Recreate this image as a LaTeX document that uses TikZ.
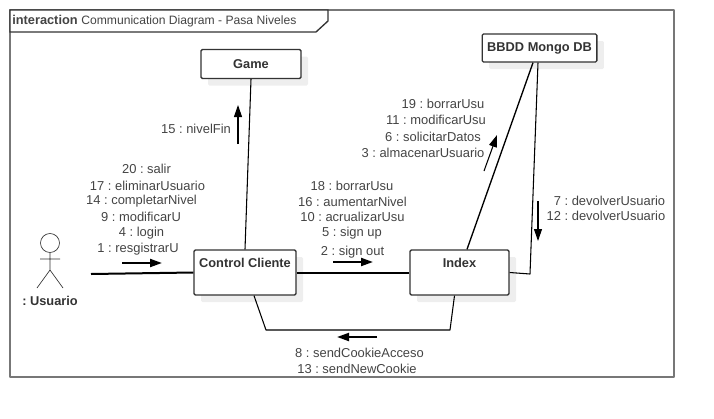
\documentclass[tikz,border=0pt]{standalone}
\usepackage{fontspec}
\setmainfont{Liberation Sans}
\frenchspacing
\usetikzlibrary{arrows.meta, calc, shadows}
\definecolor{mydark}{RGB}{51,51,51}
\definecolor{mytext}{RGB}{68,68,68}
\definecolor{myframe}{RGB}{119,119,119}
\definecolor{myshadow}{RGB}{238,238,238}
\tikzset{
  objlabel/.style={inner sep=0pt, align=center, font=\bfseries\fontsize{9.6}{11}\selectfont, text=mydark},
  objbox/.style={objlabel, rectangle, draw=mydark, fill=white, rounded corners=1pt,
    line width=1pt, copy shadow={draw=none, fill=myshadow, shadow xshift=5.25pt, shadow yshift=-5.25pt}},
  msg/.style={inner sep=0pt, font=\fontsize{9.7}{11}\selectfont, text=mytext},
  link/.style={line width=0.8pt, color=black},
  boldlink/.style={line width=1.5pt, color=black},
  msgarrow/.style={-{Triangle[length=9pt,width=6pt]}, line width=1.5pt, color=black}
}
\begin{document}
\begin{tikzpicture}[x=0.75pt, y=-0.75pt]
  \useasboundingbox (0,0) rectangle (714,418);
  % Frame and its tab
  \draw[line width=1.5pt, color=myframe, line join=round] (10,10) rectangle (674,377);
  \draw[line width=1pt, color=mydark, fill=white] (10,10) -- (328,10) -- (328,21) -- (316,32) -- (10,32) -- cycle;
  \node[msg, anchor=west] (title) at (12,21) {{\fontsize{9.6}{11}\selectfont\bfseries interaction} {\fontsize{9.1}{11}\selectfont Communication Diagram - Pasa Niveles}};

  % Objects
  \node[objbox, minimum width=75pt, minimum height=21.75pt] (game) at (251,64) {Game};
  \node[objbox, minimum width=86pt, minimum height=21pt] (mongo) at (539.5,48) {BBDD Mongo DB};
  \node[objbox, minimum width=76.5pt, minimum height=33.75pt, text depth=14pt] (ctrl) at (245,272.5) {Control Cliente};
  \node[objbox, minimum width=74.25pt, minimum height=33.75pt, text depth=14pt] (index) at (459.5,272.5) {Index};

  % Actor
  \draw[line width=0.5pt, color=mydark] (50,243) circle (9.5);
  \draw[line width=0.5pt, color=mydark] (50,252.5) -- (50,270) -- (37,288) (50,270) -- (63,288) (40,259) -- (60,259);
  \node[objlabel] (usuario) at (50,301) {: Usuario};
  \coordinate (usrend) at (91,274);

  % Links
  \draw[boldlink] (usrend) -- (ctrl.west);
  \draw[link] (ctrl.north) -- (game.south);
  \draw[boldlink] (ctrl.east) -- (index.west);
  \coordinate (lowleft) at (266,330);
  \coordinate (lowright) at (450,330);
  \draw[link, line join=round] ($(ctrl.south)+(9,0)$) -- (lowleft) -- (lowright) -- ($(index.south)+(-5,0)$);
  \draw[line width=1pt] ($(index.north)+(7.5,0)$) -- ($(mongo.south)+(-6.5,0)$);
  \coordinate (indexbend) at (530,274);
  \draw[link, line join=round] (index.east) -- (indexbend) -- ($(mongo.south)+(-1.5,0)$);

  % Message arrows
  \coordinate (a1s) at (238,144);  \coordinate (a1e) at (238,105);
  \coordinate (a2s) at (122,263);  \coordinate (a2e) at (162,263);
  \coordinate (a3s) at (333,262);  \coordinate (a3e) at (373,262);
  \coordinate (a4s) at (377,337);  \coordinate (a4e) at (337,337);
  \coordinate (a5s) at (484,171);  \coordinate (a5e) at (497,135);
  \coordinate (a6s) at (538,201);  \coordinate (a6e) at (538,241);
  \draw[msgarrow, line width=0.8pt] (a1s) -- (a1e);
  \draw[msgarrow] (a2s) -- (a2e);
  \draw[msgarrow] (a3s) -- (a3e);
  \draw[msgarrow] (a4s) -- (a4e);
  \draw[msgarrow, line width=0.8pt] (a5s) -- (a5e);
  \draw[msgarrow, line width=0.8pt] (a6s) -- (a6e);

  % Labels
  \node[msg] (m15) at (196,129) {15 : nivelFin};

  \node[msg] (m20) at (146.5,169) {20 : salir};
  \node[msg] (m17) at (147.5,185.5) {17 : eliminarUsuario};
  \node[msg] (m14) at (141.5,201.5) {14 : completarNivel};
  \node[msg] (m9) at (141,217) {9 : modificarU};
  \node[msg] (m4) at (141.5,233) {4 : login};
  \node[msg] (m1) at (138,249) {1 : resgistrarU};

  \node[msg] (m18) at (352,185.5) {18 : borrarUsu};
  \node[msg] (m16) at (352.5,201.5) {16 : aumentarNivel};
  \node[msg] (m10) at (352.5,217) {10 : acrualizarUsu};
  \node[msg] (m5) at (352,233) {5 : sign up};
  \node[msg] (m2) at (352.5,252.5) {2 : sign out};

  \node[msg] (m19) at (443,104) {19 : borrarUsu};
  \node[msg] (m11) at (436,120) {11 : modificarUsu};
  \node[msg] (m6) at (433,136.5) {6 : solicitarDatos};
  \node[msg] (m3) at (423,153) {3 : almacenarUsuario};

  \node[msg] (m7) at (609.5,201) {7 : devolverUsuario};
  \node[msg] (m12) at (606,216) {12 : devolverUsuario};

  \node[msg] (m8) at (359.5,352.5) {8 : sendCookieAcceso};
  \node[msg] (m13) at (357,368.5) {13 : sendNewCookie};
\end{tikzpicture}
\end{document}
